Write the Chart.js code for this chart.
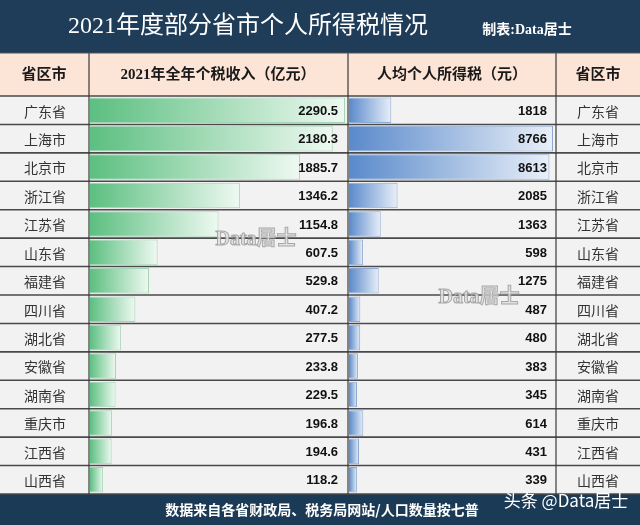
<!DOCTYPE html>
<html>
<head>
<meta charset="utf-8">
<script src="https://cdn.jsdelivr.net/npm/chart.js@4"></script>
<style>
  body { margin: 0; background: #fff; }
  #wrap { width: 640px; height: 525px; }
</style>
</head>
<body>
<div id="wrap"><canvas id="chart1" width="640" height="525"></canvas></div>
<script>
const title = "2021年度部分省市个人所得税情况";
const maker = "制表:Data居士";
const headers = ["省区市", "2021年全年个税收入（亿元）", "人均个人所得税（元）", "省区市"];
const footer = "数据来自各省财政局、税务局网站/人口数量按七普";
const provinces = ["广东省", "上海市", "北京市", "浙江省", "江苏省", "山东省", "福建省",
  "四川省", "湖北省", "安徽省", "湖南省", "重庆市", "江西省", "山西省"];
const income = [2290.5, 2180.3, 1885.7, 1346.2, 1154.8, 607.5, 529.8, 407.2, 277.5, 233.8, 229.5, 196.8, 194.6, 118.2];
const perCapita = [1818, 8766, 8613, 2085, 1363, 598, 1275, 487, 480, 383, 345, 614, 431, 339];

const canvas = document.getElementById("chart1");

// column edges of the table
const colA = 89, colB = 348, colC = 556;
const areaL = 90, areaR = 553, greenEnd = 345, blueStart = 349;
const top0 = 96, bottom0 = 494;

const maxIncome = Math.max(...income);
const maxPer = Math.max(...perCapita);

function barGradient(ctx, scaleId, c0, c1) {
  const chart = ctx.chart;
  if (!chart.chartArea || ctx.raw === undefined) return c0;
  const s = chart.scales[scaleId];
  const x0 = s.getPixelForValue(0);
  const x1 = s.getPixelForValue(ctx.raw);
  const g = chart.ctx.createLinearGradient(x0, 0, x1, 0);
  g.addColorStop(0, c0);
  g.addColorStop(1, c1);
  return g;
}

const tablePlugin = {
  id: "table",
  beforeDraw(chart) {
    const c = chart.ctx;
    c.save();
    c.fillStyle = "#f2f2f2";
    c.fillRect(0, 0, 640, 525);
    // title band
    c.fillStyle = "#1f3c58";
    c.fillRect(0, 0, 640, 53);
    // header
    c.fillStyle = "#fce4d6";
    c.fillRect(0, 53, 640, top0 - 53);
    // footer
    c.fillStyle = "#1b3a55";
    c.fillRect(0, bottom0, 640, 525 - bottom0);
    c.restore();
  },
  afterDatasetsDraw(chart) {
    const c = chart.ctx;
    const y = chart.scales.y;
    c.save();
    // row lines
    const n = provinces.length;
    const rowH = (bottom0 - top0) / n;
    c.strokeStyle = "#4a4a4a";
    c.lineWidth = 1.6;
    for (let i = 0; i <= n; i++) {
      const yy = top0 + i * rowH;
      c.beginPath();
      c.moveTo(0, yy);
      c.lineTo(640, yy);
      c.stroke();
    }
    c.strokeStyle = "#3a3a3a";
    c.lineWidth = 1.2;
    [colA, colB, colC].forEach((x) => {
      c.beginPath();
      c.moveTo(x, 53);
      c.lineTo(x, bottom0);
      c.stroke();
    });
    c.strokeStyle = "#555";
    c.beginPath();
    c.moveTo(0, 53);
    c.lineTo(640, 53);
    c.stroke();

    // title texts
    c.fillStyle = "#ffffff";
    c.textBaseline = "middle";
    c.textAlign = "center";
    c.font = '24px "Liberation Serif", "Noto Sans CJK SC"';
    c.fillText(title, 248, 27);
    c.font = 'bold 14px "Liberation Serif", "Noto Sans CJK SC"';
    c.fillText(maker, 527, 30);

    // header texts
    c.fillStyle = "#1a1a1a";
    c.font = 'bold 15px "Liberation Serif", "Noto Sans CJK SC"';
    c.fillText(headers[0], 44, 75);
    c.fillText(headers[1], 218, 75);
    c.fillText(headers[2], 452, 75);
    c.fillText(headers[3], 598, 75);

    // rows
    provinces.forEach((p, i) => {
      const yy = y.getPixelForValue(i);
      c.fillStyle = "#333";
      c.textAlign = "center";
      c.font = '14px "Noto Sans CJK SC"';
      c.fillText(p, 45, yy + 1);
      c.fillText(p, 598, yy + 1);
      c.fillStyle = "#111";
      c.textAlign = "right";
      c.font = 'bold 13px "Liberation Sans", "DejaVu Sans"';
      c.fillText(income[i].toFixed(1), 338, yy + 1);
      c.fillText(String(perCapita[i]), 547, yy + 1);
    });

    // watermarks
    c.textAlign = "center";
    c.font = 'bold 20px "Liberation Serif", "Noto Sans CJK SC"';
    c.fillStyle = "rgba(225,225,225,0.85)";
    c.strokeStyle = "rgba(150,150,150,0.8)";
    c.lineWidth = 1;
    c.fillText("Data居士", 256, 240);
    c.strokeText("Data居士", 256, 240);
    c.fillText("Data居士", 479, 298);
    c.strokeText("Data居士", 479, 298);

    // footer
    c.fillStyle = "#ffffff";
    c.font = 'bold 14px "Noto Sans CJK SC"';
    c.fillText(footer, 322, 510);
    c.font = '17px "Noto Sans CJK SC"';
    c.fillText("头条 @Data居士", 566, 501);
    c.restore();
  }
};

const myChart = new Chart(canvas, {
  type: "bar",
  data: {
    labels: provinces,
    datasets: [
      {
        label: "个税收入",
        data: income,
        xAxisID: "x",
        grouped: false,
        backgroundColor: (ctx) => barGradient(ctx, "x", "#5cbf80", "#eef9f1"),
        borderColor: "#a7d3b6",
        borderWidth: 1,
        barPercentage: 0.9,
        categoryPercentage: 1,
      },
      {
        label: "人均个税",
        data: perCapita,
        xAxisID: "x2",
        grouped: false,
        backgroundColor: (ctx) => barGradient(ctx, "x2", "#5a8acb", "#e8eff8"),
        borderColor: "#8ea9d0",
        borderWidth: 1,
        barPercentage: 0.9,
        categoryPercentage: 1,
      },
    ],
  },
  options: {
    indexAxis: "y",
    responsive: false,
    animation: false,
    layout: {
      padding: { left: areaL, right: 640 - areaR, top: top0, bottom: 525 - bottom0 },
    },
    plugins: {
      legend: { display: false },
      tooltip: { enabled: false },
    },
    scales: {
      y: { display: false, offset: true },
      x: {
        display: false,
        min: 0,
        max: maxIncome * (areaR - areaL) / (greenEnd - areaL),
      },
      x2: {
        type: "linear",
        display: false,
        min: -maxPer * (blueStart - areaL) / (areaR - blueStart),
        max: maxPer,
      },
    },
  },
  plugins: [tablePlugin],
});
</script>
</body>
</html>
